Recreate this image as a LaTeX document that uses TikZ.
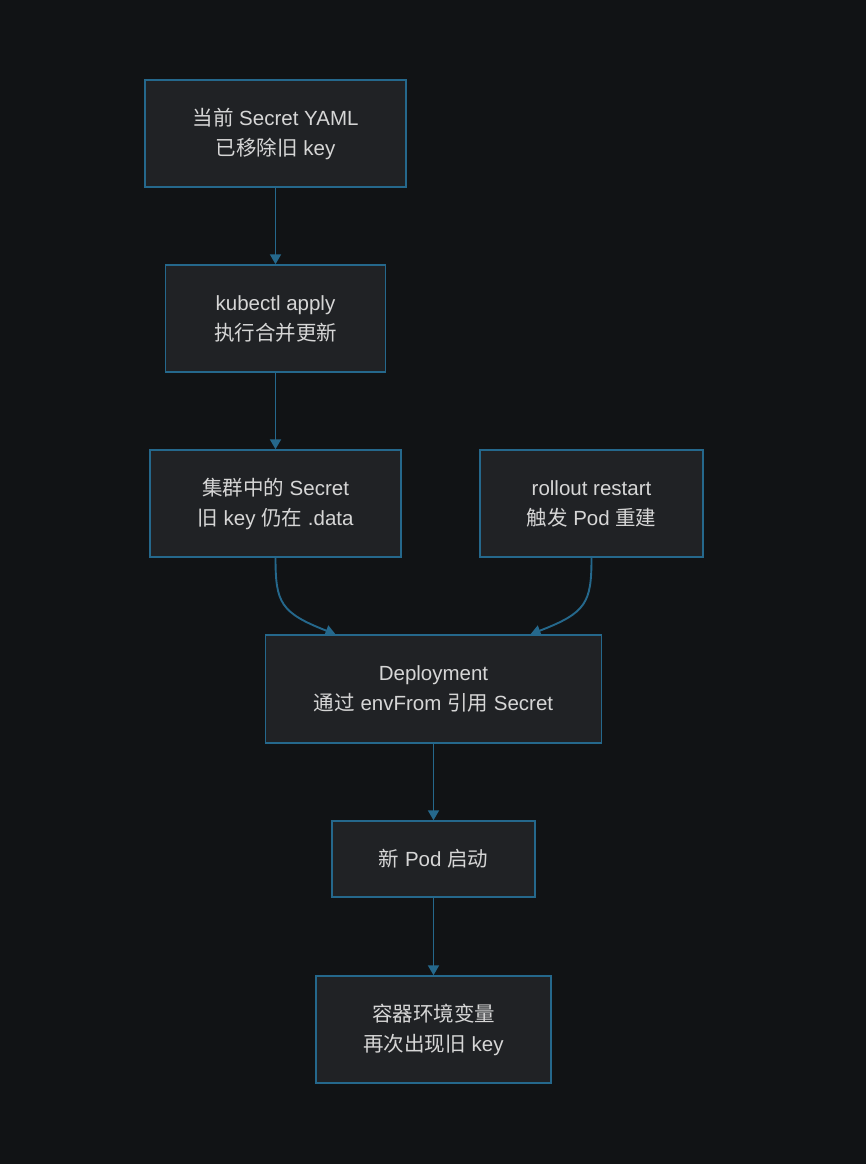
\documentclass[tikz,border=0pt]{standalone}
\usepackage{fontspec}
\setmainfont{Liberation Sans}
\newfontfamily\cjk{Noto Sans CJK SC}
\usetikzlibrary{arrows.meta,calc}
\definecolor{bg}{HTML}{111315}
\definecolor{boxfill}{HTML}{202225}
\definecolor{edge}{HTML}{25688C}
\definecolor{txt}{HTML}{D6D6D6}
\newcommand{\zh}[1]{{\cjk #1}}
\begin{document}
\begin{tikzpicture}[x=1pt,y=-1pt,
  box/.style={draw=edge,fill=boxfill,line width=1.5pt,text=txt,align=center,
    font=\fontsize{20.5}{30}\selectfont,inner sep=0pt,anchor=center},
  link/.style={draw=edge,line width=1.9pt,-{Triangle[width=11pt,length=10pt]}}]
\fill[bg] (0,0) rectangle (866,1164);
\useasboundingbox (0,0) rectangle (866,1164);
\node[box,minimum width=261pt,minimum height=107pt] (n1) at (275.5,133.5) {\zh{当前} Secret YAML\\\zh{已移除旧} key};
\node[box,minimum width=220pt,minimum height=107pt] (n2) at (275.5,318.5) {kubectl apply\\\zh{执行合并更新}};
\node[box,minimum width=251pt,minimum height=107pt] (n3) at (275.5,503.5) {\zh{集群中的} Secret\\\zh{旧} key \zh{仍在} .data};
\node[box,minimum width=223pt,minimum height=107pt] (n4) at (591.5,503.5) {rollout restart\\\zh{触发} Pod \zh{重建}};
\node[box,minimum width=336pt,minimum height=108pt] (n5) at (433.5,689) {Deployment\\\zh{通过} envFrom \zh{引用} Secret};
\node[box,minimum width=203pt,minimum height=76pt] (n6) at (433.5,859) {\zh{新} Pod \zh{启动}};
\node[box,minimum width=235pt,minimum height=107pt] (n7) at (433.5,1029.5) {\zh{容器环境变量}\\\zh{再次出现旧} key};
\coordinate (e5l) at ($(n5.north)+(-98,0)$);
\coordinate (e5r) at ($(n5.north)+(97,0)$);
\draw[link] (n1.south) -- (n2.north);
\draw[link] (n2.south) -- (n3.north);
\draw[link] (n3.south) .. controls ($(n3.south)+(0,45)$) and ($(n3.south)+(5,55)$) .. (e5l);
\draw[link] (n4.south) .. controls ($(n4.south)+(0,45)$) and ($(n4.south)+(-5,55)$) .. (e5r);
\draw[link] (n5.south) -- (n6.north);
\draw[link] (n6.south) -- (n7.north);
\end{tikzpicture}
\end{document}
